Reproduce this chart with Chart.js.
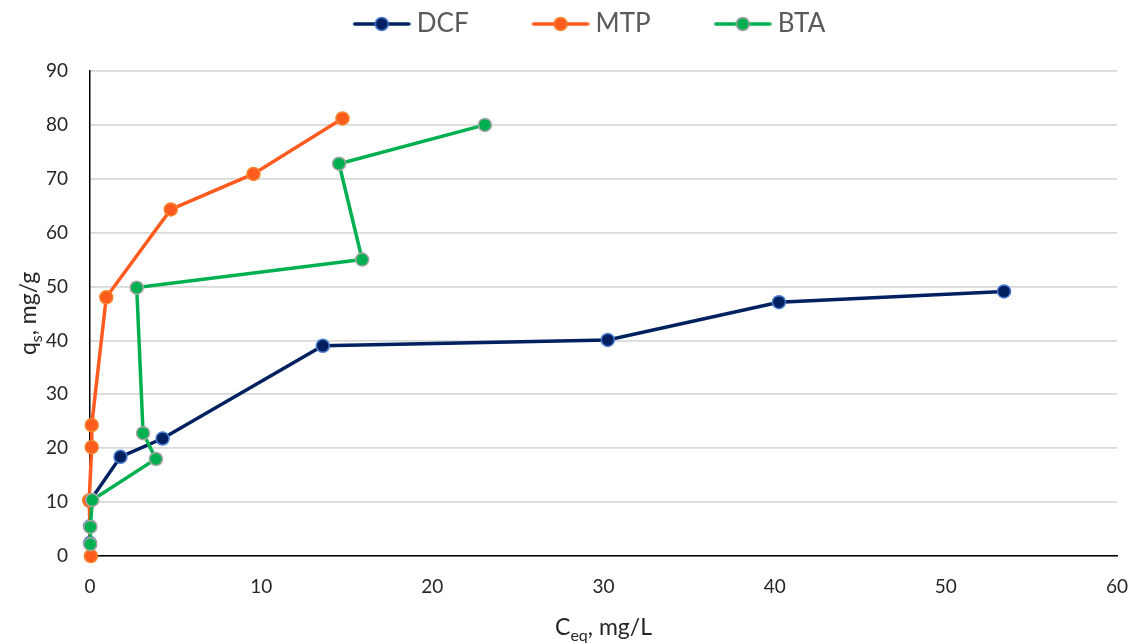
<!DOCTYPE html>
<html><head><meta charset="utf-8">
<script src="https://cdn.jsdelivr.net/npm/chart.js@4.4.1/dist/chart.umd.min.js"></script>
<style>html,body{margin:0;padding:0;background:#fff;} #wrap{width:1136px;height:643px;position:relative;}</style>
</head><body><div id="wrap"><canvas id="c"></canvas></div>
<script>
const seriesNames = ['DCF', 'MTP', 'BTA'];
const dcfX = [0, 0, 0, 1.78, 4.24, 13.6, 30.25, 40.25, 53.4];
const dcfY = [2.4, 5.5, 10.2, 18.4, 21.8, 39.0, 40.1, 47.1, 49.1];
const mtpX = [0.05, -0.05, 0.1, 0.1, 0.95, 4.72, 9.55, 14.75];
const mtpY = [0, 10.3, 20.2, 24.3, 48.0, 64.3, 70.9, 81.2];
const btaX = [0.02, 0.02, 0.13, 3.85, 3.1, 2.73, 15.9, 14.55, 23.07];
const btaY = [2.2, 5.4, 10.4, 18.0, 22.8, 49.8, 55.0, 72.8, 80.0];
const xTicks = [0, 10, 20, 30, 40, 50, 60];
const yTicks = [0, 10, 20, 30, 40, 50, 60, 70, 80, 90];

const lineColors = ['#002060', '#FF5B1F', '#00B050'];
const pointFills = ['#002060', '#FF5B1F', '#00B050'];
const pointBorders = ['#4A7CD0', '#F5842C', '#A5A5A5'];

function pts(xs, ys) { return xs.map((x, i) => ({x: x, y: ys[i]})); }

const FONT = 'Lato, "Open Sans", sans-serif';

// legend icons: line with marker
const PSW = 104, IW = PSW + 14, IH = 22;
function makeIcon(i) {
  const c = document.createElement('canvas');
  c.width = IW; c.height = IH;
  const g = c.getContext('2d');
  g.strokeStyle = lineColors[i]; g.lineWidth = 3.5; g.lineCap = 'round';
  g.beginPath(); g.moveTo(IW - 56, IH / 2); g.lineTo(IW - 2, IH / 2); g.stroke();
  g.beginPath(); g.arc(IW - 29, IH / 2, 6.5, 0, Math.PI * 2);
  g.fillStyle = pointFills[i]; g.fill();
  g.lineWidth = 1.5; g.strokeStyle = pointBorders[i]; g.stroke();
  return c;
}
const icons = [0, 1, 2].map(makeIcon);

const datasets = [[dcfX, dcfY], [mtpX, mtpY], [btaX, btaY]].map((d, i) => ({
  label: seriesNames[i],
  data: pts(d[0], d[1]),
  borderColor: lineColors[i],
  backgroundColor: pointFills[i],
  pointBackgroundColor: pointFills[i],
  pointBorderColor: pointBorders[i],
  pointBorderWidth: 1.5,
  pointRadius: 6.5,
  pointHoverRadius: 6.5,
  borderWidth: 3.5,
  showLine: true,
  tension: 0,
  clip: false,
  order: 3 - i
}));

function drawSub(ctx, parts, size) {
  const subSize = Math.round(size * 0.68);
  ctx.font = size + 'px ' + FONT;
  const w0 = ctx.measureText(parts[0]).width;
  const w2 = ctx.measureText(parts[2]).width;
  ctx.font = subSize + 'px ' + FONT;
  const w1 = ctx.measureText(parts[1]).width;
  const total = w0 + w1 + w2;
  let x = -total / 2;
  ctx.textAlign = 'left'; ctx.textBaseline = 'alphabetic';
  ctx.font = size + 'px ' + FONT; ctx.fillText(parts[0], x, 0); x += w0;
  ctx.font = subSize + 'px ' + FONT; ctx.fillText(parts[1], x, size * 0.28); x += w1;
  ctx.font = size + 'px ' + FONT; ctx.fillText(parts[2], x, 0);
}

const titlesPlugin = {
  id: 'subTitles',
  beforeInit(chart) {
    const lg = chart.legend;
    if (lg) {
      const orig = lg.fit;
      lg.fit = function () { orig.call(this); this.height = 70; };
    }
  },
  afterDraw(chart) {
    const {ctx, chartArea} = chart;
    ctx.save();
    ctx.fillStyle = '#262626';
    ctx.translate((chartArea.left + chartArea.right) / 2, 635);
    drawSub(ctx, ['C', 'eq', ', mg/L'], 23);
    ctx.restore();
    ctx.save();
    ctx.fillStyle = '#262626';
    ctx.translate(36, (chartArea.top + chartArea.bottom) / 2);
    ctx.rotate(-Math.PI / 2);
    drawSub(ctx, ['q', 's', ', mg/g'], 23);
    ctx.restore();
  }
};

new Chart(document.getElementById('c'), {
  type: 'scatter',
  data: {datasets: datasets},
  options: {
    responsive: true,
    maintainAspectRatio: false,
    animation: false,
    layout: {padding: {left: 8, right: 19, top: 1, bottom: 0}},
    plugins: {
      tooltip: {enabled: false},
      legend: {
        position: 'top',
        labels: {
          usePointStyle: true,
          pointStyleWidth: PSW,
          padding: 10,
          color: '#595959',
          font: {family: FONT, size: 26},
          generateLabels(chart) {
            return chart.data.datasets.map((ds, i) => ({
              text: ds.label,
              pointStyle: icons[i],
              fillStyle: ds.backgroundColor,
              strokeStyle: ds.borderColor,
              lineWidth: 0,
              hidden: !chart.isDatasetVisible(i),
              datasetIndex: i,
              fontColor: '#595959'
            }));
          }
        }
      }
    },
    scales: {
      x: {
        type: 'linear', min: 0, max: 60,
        afterBuildTicks(s) { s.ticks = xTicks.map(v => ({value: v})); },
        afterFit(s) { s.height = 87; s.paddingLeft = 0; s.paddingRight = 0; },
        grid: {display: false, drawTicks: false},
        border: {display: true, color: '#000000', width: 1.5},
        ticks: {padding: 19, color: '#262626', font: {family: FONT, size: 19}}
      },
      y: {
        type: 'linear', min: 0, max: 90,
        afterBuildTicks(s) { s.ticks = yTicks.map(v => ({value: v})); },
        afterFit(s) { s.width = 82; },
        grid: {display: true, color: '#D9D9D9', lineWidth: 1.8, drawTicks: false},
        border: {display: true, color: '#000000', width: 1.5},
        ticks: {padding: 22, color: '#262626', font: {family: FONT, size: 19}}
      }
    }
  },
  plugins: [titlesPlugin]
});
</script>
</body></html>
